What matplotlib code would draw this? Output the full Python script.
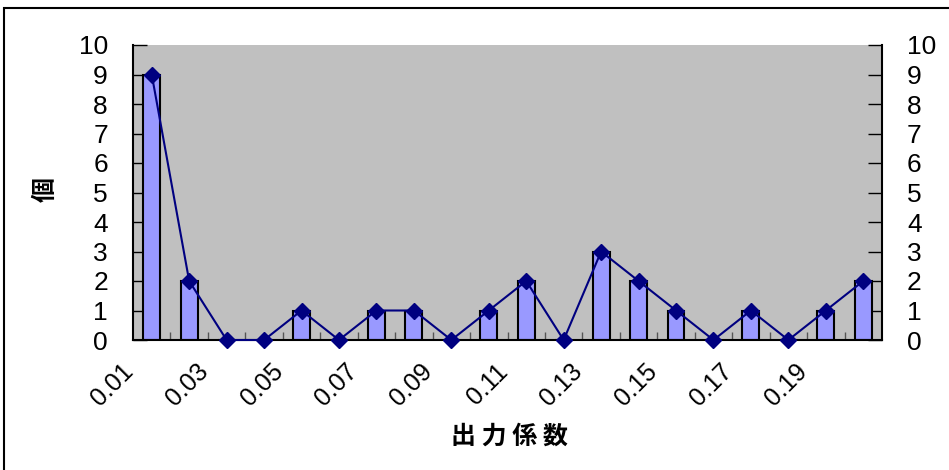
import numpy as np
import matplotlib.pyplot as plt
import matplotlib.transforms as mtransforms
from matplotlib.patches import Rectangle

plt.rcParams['font.family'] = ['Liberation Sans', 'Noto Sans CJK JP', 'DejaVu Sans']

# データ
categories = ["0.01", "0.02", "0.03", "0.04", "0.05", "0.06", "0.07", "0.08", "0.09", "0.10",
              "0.11", "0.12", "0.13", "0.14", "0.15", "0.16", "0.17", "0.18", "0.19", "0.20"]
counts = [9, 2, 0, 0, 1, 0, 1, 1, 0, 1, 2, 0, 3, 2, 1, 0, 1, 0, 1, 2]
y_ticks = list(range(0, 11))

fig = plt.figure(figsize=(9.49, 4.70), dpi=100)
ax = fig.add_axes([133 / 949, 1 - 340 / 470, (882 - 133) / 949, (340 - 45) / 470])
ax.set_facecolor("#C0C0C0")

x = np.arange(len(categories))
ax.bar(x, counts, width=0.45, color="#9999FF", edgecolor="black", linewidth=1.5, zorder=2)
ax.plot(x, counts, color="#000080", linewidth=1.5, marker="D", markersize=8, zorder=3, clip_on=False)

ax.set_xlim(-0.5, len(categories) - 0.5)
ax.set_ylim(0, 10)

# 軸
ax.spines["top"].set_visible(False)
for s in ["left", "right", "bottom"]:
    ax.spines[s].set_linewidth(1.5)

ax.set_yticks(y_ticks)
ax.tick_params(axis="y", direction="in", length=10, width=1, left=True, right=True,
               labelleft=True, labelright=True, labelsize=19, pad=18)

# 目盛りは区切り位置、ラベルは1つおき
ax.set_xticks(np.arange(0.5, len(categories) - 0.5, 1))
ax.set_xticklabels([])
ax.tick_params(axis="x", which="major", direction="in", length=6, width=1, color="#555555")
ax.set_xticks(x[::2], minor=True)
ax.set_xticklabels(categories[::2], minor=True)
ax.tick_params(axis="x", which="minor", length=0, labelsize=18, pad=14)
offset = mtransforms.ScaledTranslation(-14 / 100, 0, fig.dpi_scale_trans)
for lab in ax.get_xticklabels(minor=True):
    lab.set_rotation(45)
    lab.set_ha("right")
    lab.set_transform(lab.get_transform() + offset)

fig.text(46 / 949, 1 - 190 / 470, "個", ha="center", va="center", rotation=90,
         fontsize=18, fontweight="bold", family=['Noto Sans CJK JP'])
fig.text(509 / 949, 1 - 437 / 470, "出 力 係 数", ha="center", va="center",
         fontsize=18, fontweight="bold", family=['Noto Sans CJK JP'])

# 外枠
fig.patches.append(Rectangle((4 / 949, -0.05), 1.1, 1 - 8 / 470 + 0.05, transform=fig.transFigure,
                             fill=False, edgecolor="black", linewidth=1.5))

fig.savefig("out.png", dpi=100)
